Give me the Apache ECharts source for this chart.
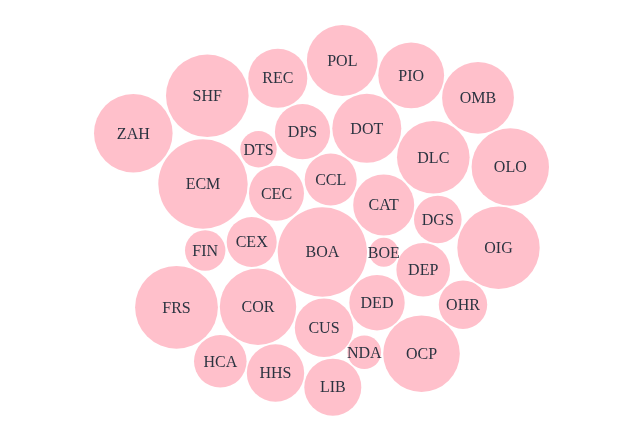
<!DOCTYPE html>
<html>
<head>
<meta charset="utf-8">
<script src="https://cdn.jsdelivr.net/npm/echarts@6/dist/echarts.min.js"></script>
<style>
html,body{margin:0;padding:0;background:#fff;}
#chart{width:640px;height:437px;}
</style>
</head>
<body>
<div id="chart"></div>
<script>
var names = ["ZAH","SHF","REC","POL","PIO","OMB","DTS","DPS","DOT","DLC","OLO","ECM","CEC","CCL","CAT","DGS","FIN","CEX","BOA","BOE","OIG","DEP","FRS","COR","CUS","DED","OHR","HCA","HHS","NDA","OCP","LIB"];
var xs = [133.3,207.3,277.8,342.3,411.2,478.0,258.5,302.5,366.8,433.3,510.3,203.0,276.5,330.7,383.7,437.8,205.2,251.7,322.4,383.8,498.5,423.2,176.5,258.0,324.0,377.0,463.0,220.3,275.5,364.3,421.5,332.8];
var ys = [133.3,95.8,78.2,60.5,75.3,97.8,149.3,131.7,128.3,157.3,167.0,184.0,193.3,179.5,205.0,219.5,250.5,242.0,252.0,252.3,247.8,269.8,307.3,306.8,327.8,302.7,304.7,361.3,373.0,352.3,353.7,387.2];
var radii = [39.3,41.3,29.5,35.4,32.9,35.9,18.2,27.6,34.5,36.3,38.7,44.7,27.5,26.0,30.5,23.8,20.2,25.0,44.7,14.5,41.2,26.8,41.4,38.2,29.2,27.7,24.2,26.3,28.7,16.8,38.3,28.5];

var data = names.map(function(n,i){ return {name:n, value:[xs[i], ys[i], radii[i]]}; });

var chart = echarts.init(document.getElementById('chart'), null, {renderer:'canvas'});
chart.setOption({
  backgroundColor:'#ffffff',
  animation:false,
  grid:{left:0,right:0,top:0,bottom:0},
  xAxis:{type:'value',min:0,max:640,show:false},
  yAxis:{type:'value',min:0,max:437,inverse:true,show:false},
  series:[{
    type:'scatter',
    data:data,
    symbol:'circle',
    symbolSize:function(v){ return v[2]*2; },
    itemStyle:{color:'#ffc0cb',opacity:1},
    label:{show:true,position:'inside',offset:[0,1],formatter:'{b}',color:'#2b3340',fontFamily:'"Liberation Serif","DejaVu Serif",serif',fontSize:16},
    emphasis:{disabled:true}
  }]
});
</script>
</body>
</html>
